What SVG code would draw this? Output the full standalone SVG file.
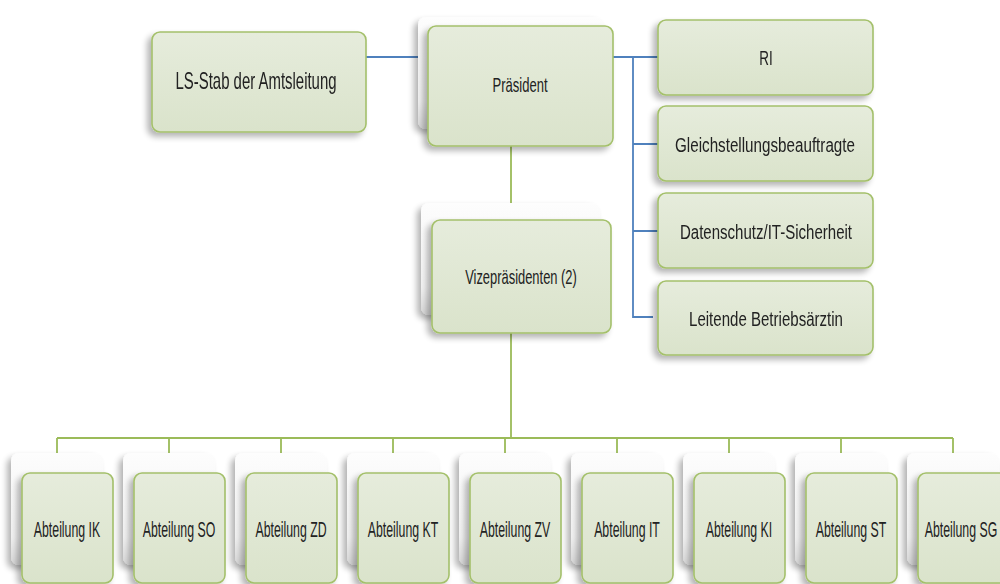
<svg xmlns="http://www.w3.org/2000/svg" width="1000" height="584" viewBox="0 0 1000 584">
<defs>
<linearGradient id="gFront" x1="0" y1="0" x2="0" y2="1">
<stop offset="0" stop-color="#e6ecdc"/>
<stop offset="1" stop-color="#dae3cb"/>
</linearGradient>
<linearGradient id="gBack" x1="0" y1="0" x2="0" y2="1">
<stop offset="0" stop-color="#fdfdfd"/>
<stop offset="0.75" stop-color="#f1f1f1"/>
<stop offset="1" stop-color="#d6d6d6"/>
</linearGradient>
<filter id="sh" x="-20%" y="-20%" width="140%" height="150%">
<feGaussianBlur in="SourceAlpha" stdDeviation="3"/>
<feOffset dx="-4" dy="4" result="b"/>
<feComponentTransfer><feFuncA type="linear" slope="0.3"/></feComponentTransfer>
<feMerge><feMergeNode/><feMergeNode in="SourceGraphic"/></feMerge>
</filter>
</defs>
<style>
.front{fill:url(#gFront);stroke:#a4c06b;stroke-width:1.6}
.back{fill:url(#gBack);stroke:none}
.blue{stroke:#4f81bd;stroke-width:1.8;fill:none}
.green{stroke:#9bbb59;stroke-width:1.8;fill:none}
text{font-family:"Liberation Sans",Arial,sans-serif;font-size:21px;fill:#222222;text-anchor:middle}
.lg{font-size:23px}
.ab{font-size:22px}
</style>
<rect width="1000" height="584" fill="#ffffff"/>
<g id="connectors">
<path class="blue" d="M366 57H428M613 57H658M633 57V317H653M633 144H658M633 231H658"/>
<path class="green" d="M511 146V203M511 333V438M57 438H953M57 438V453M169 438V453M281 438V453M393 438V453M505 438V453M617 438V453M729 438V453M841 438V453M953 438V453"/>
</g>
<g id="n-ls" filter="url(#sh)">
<rect class="front" x="152" y="32" width="214" height="100" rx="8"/>
<text class="lg" transform="translate(256 89) scale(0.65 1)">LS-Stab der Amtsleitung</text>
</g>
<g id="n-praesident">
<rect class="back" x="418" y="17" width="186" height="112" rx="8" filter="url(#sh)"/>
<rect class="front" x="428" y="26" width="185" height="120" rx="8" filter="url(#sh)"/>
<text transform="translate(520 92) scale(0.62 1)">Präsident</text>
</g>
<g id="n-ri" filter="url(#sh)">
<rect class="front" x="658" y="20" width="215" height="75" rx="8"/>
<text transform="translate(766 65) scale(0.64 1)">RI</text>
</g>
<g id="n-gleich" filter="url(#sh)">
<rect class="front" x="658" y="106" width="215" height="75" rx="8"/>
<text transform="translate(765 152) scale(0.724 1)">Gleichstellungsbeauftragte</text>
</g>
<g id="n-daten" filter="url(#sh)">
<rect class="front" x="658" y="193" width="215" height="75" rx="8"/>
<text transform="translate(766 239) scale(0.716 1)">Datenschutz/IT-Sicherheit</text>
</g>
<g id="n-leitende" filter="url(#sh)">
<rect class="front" x="658" y="281" width="215" height="74" rx="8"/>
<text transform="translate(766 326) scale(0.717 1)">Leitende Betriebsärztin</text>
</g>
<g id="n-vize">
<rect class="back" x="421" y="203" width="179" height="112" rx="8" filter="url(#sh)"/>
<rect class="front" x="432" y="220" width="179" height="113" rx="8" filter="url(#sh)"/>
<text transform="translate(521 284) scale(0.615 1)">Vizepräsidenten (2)</text>
</g>
<g id="n-ik">
<rect class="back" x="11" y="453" width="92" height="112" rx="8" filter="url(#sh)"/>
<rect class="front" x="22" y="473" width="91" height="110" rx="8" filter="url(#sh)"/>
<text class="ab" transform="translate(67 537) scale(0.56 1)">Abteilung IK</text>
</g>
<g id="n-so">
<rect class="back" x="123" y="453" width="92" height="112" rx="8" filter="url(#sh)"/>
<rect class="front" x="134" y="473" width="91" height="110" rx="8" filter="url(#sh)"/>
<text class="ab" transform="translate(179 537) scale(0.56 1)">Abteilung SO</text>
</g>
<g id="n-zd">
<rect class="back" x="235" y="453" width="92" height="112" rx="8" filter="url(#sh)"/>
<rect class="front" x="246" y="473" width="91" height="110" rx="8" filter="url(#sh)"/>
<text class="ab" transform="translate(291 537) scale(0.56 1)">Abteilung ZD</text>
</g>
<g id="n-kt">
<rect class="back" x="347" y="453" width="92" height="112" rx="8" filter="url(#sh)"/>
<rect class="front" x="358" y="473" width="91" height="110" rx="8" filter="url(#sh)"/>
<text class="ab" transform="translate(403 537) scale(0.56 1)">Abteilung KT</text>
</g>
<g id="n-zv">
<rect class="back" x="459" y="453" width="92" height="112" rx="8" filter="url(#sh)"/>
<rect class="front" x="470" y="473" width="91" height="110" rx="8" filter="url(#sh)"/>
<text class="ab" transform="translate(515 537) scale(0.56 1)">Abteilung ZV</text>
</g>
<g id="n-it">
<rect class="back" x="571" y="453" width="92" height="112" rx="8" filter="url(#sh)"/>
<rect class="front" x="582" y="473" width="91" height="110" rx="8" filter="url(#sh)"/>
<text class="ab" transform="translate(627 537) scale(0.56 1)">Abteilung IT</text>
</g>
<g id="n-ki">
<rect class="back" x="683" y="453" width="92" height="112" rx="8" filter="url(#sh)"/>
<rect class="front" x="694" y="473" width="91" height="110" rx="8" filter="url(#sh)"/>
<text class="ab" transform="translate(739 537) scale(0.56 1)">Abteilung KI</text>
</g>
<g id="n-st">
<rect class="back" x="795" y="453" width="92" height="112" rx="8" filter="url(#sh)"/>
<rect class="front" x="806" y="473" width="91" height="110" rx="8" filter="url(#sh)"/>
<text class="ab" transform="translate(851 537) scale(0.56 1)">Abteilung ST</text>
</g>
<g id="n-sg">
<rect class="back" x="907" y="453" width="92" height="112" rx="8" filter="url(#sh)"/>
<rect class="front" x="918" y="473" width="91" height="110" rx="8" filter="url(#sh)"/>
<text class="ab" transform="translate(961 537) scale(0.56 1)">Abteilung SG</text>
</g>
</svg>
